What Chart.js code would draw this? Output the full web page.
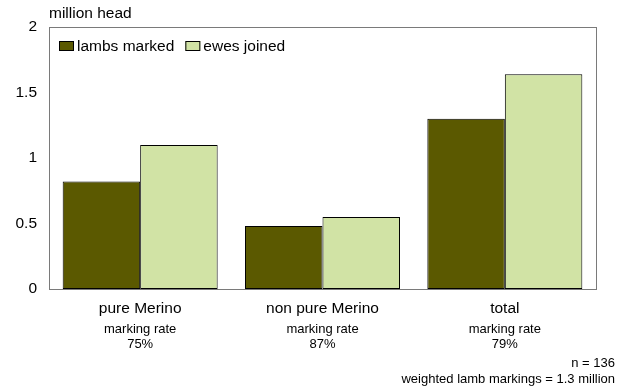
<!DOCTYPE html>
<html>
<head>
<meta charset="utf-8">
<script src="https://cdn.jsdelivr.net/npm/chart.js@4"></script>
<style>
  html, body { margin: 0; padding: 0; background: #fff; }
  #wrap { width: 631px; height: 392px; position: relative; }
</style>
</head>
<body>
<div id="wrap"><canvas id="c" width="631" height="392"></canvas></div>
<script>
const categories = ["pure Merino", "non pure Merino", "total"];
const lambsMarked = [0.82, 0.48, 1.30];
const ewesJoined = [1.10, 0.55, 1.64];
const markingRates = ["75%", "87%", "79%"];
const seriesNames = ["lambs marked", "ewes joined"];
const yTickLabels = ["0", "0.5", "1", "1.5", "2"];
const yAxisTitle = "million head";
const sampleNote = "n = 136";
const weightedNote = "weighted lamb markings = 1.3 million";

const FONT = '"Liberation Sans", Arial, Helvetica, sans-serif';
const DARK = '#5b5900';
const LIGHT = '#d1e3a5';

const extras = {
  id: 'extras',
  afterDraw(chart) {
    const ctx = chart.ctx;
    const a = chart.chartArea;
    const xs = chart.scales.x;
    ctx.save();
    // plot box
    ctx.strokeStyle = '#7a7a7a';
    ctx.lineWidth = 1;
    ctx.strokeRect(Math.round(a.left) + 0.5, Math.round(a.top) + 0.5,
                   Math.round(a.right - a.left), Math.round(a.bottom - a.top));
    // y unit label
    ctx.fillStyle = '#000';
    ctx.textBaseline = 'middle';
    ctx.textAlign = 'left';
    ctx.font = '15.5px ' + FONT;
    ctx.fillText(yAxisTitle, a.left, 14);
    // legend
    const ds = chart.data.datasets;
    let lx = a.left + 10;
    const ly = a.top + 14;
    ds.forEach((d, i) => {
      ctx.fillStyle = d.backgroundColor;
      ctx.fillRect(lx, ly, 15, 10);
      ctx.strokeStyle = '#000';
      ctx.strokeRect(lx + 0.5, ly + 0.5, 14, 9);
      ctx.fillStyle = '#000';
      ctx.textAlign = 'left';
      ctx.fillText(d.label, lx + 18, ly + 5.5);
      lx += 18 + ctx.measureText(d.label).width + 11;
    });
    // sub labels
    ctx.font = '13px ' + FONT;
    ctx.textAlign = 'center';
    categories.forEach((c, i) => {
      const px = xs.getPixelForValue(i);
      ctx.fillText('marking rate', px, 329);
      ctx.fillText(markingRates[i], px, 344);
    });
    // footnotes
    ctx.textAlign = 'right';
    ctx.fillText(sampleNote, 615, 363);
    ctx.fillText(weightedNote, 615, 379);
    ctx.restore();
  }
};

new Chart(document.getElementById('c'), {
  type: 'bar',
  data: {
    labels: categories,
    datasets: [
      { label: seriesNames[0], data: lambsMarked, backgroundColor: DARK, borderColor: '#000', borderWidth: 1, borderSkipped: false },
      { label: seriesNames[1], data: ewesJoined, backgroundColor: LIGHT, borderColor: '#000', borderWidth: 1, borderSkipped: false }
    ]
  },
  options: {
    responsive: false,
    animation: false,
    devicePixelRatio: 1,
    layout: { padding: { left: 0, right: 35, top: 27, bottom: 0 } },
    plugins: { legend: { display: false }, tooltip: { enabled: false }, title: { display: false } },
    datasets: { bar: { categoryPercentage: 0.85, barPercentage: 1.0 } },
    scales: {
      x: {
        grid: { display: false, drawTicks: false },
        border: { display: false },
        ticks: { color: '#000', font: { size: 15.5, family: FONT }, padding: 10, maxRotation: 0 },
        afterFit(s) { s.height = 103; }
      },
      y: {
        min: 0, max: 2,
        grid: { display: false, drawTicks: false },
        border: { display: false },
        ticks: {
          stepSize: 0.5, color: '#000', font: { size: 15.5, family: FONT }, padding: 12,
          callback: (v, i) => yTickLabels[i]
        },
        afterFit(s) { s.width = 49; }
      }
    }
  },
  plugins: [extras]
});
</script>
</body>
</html>
